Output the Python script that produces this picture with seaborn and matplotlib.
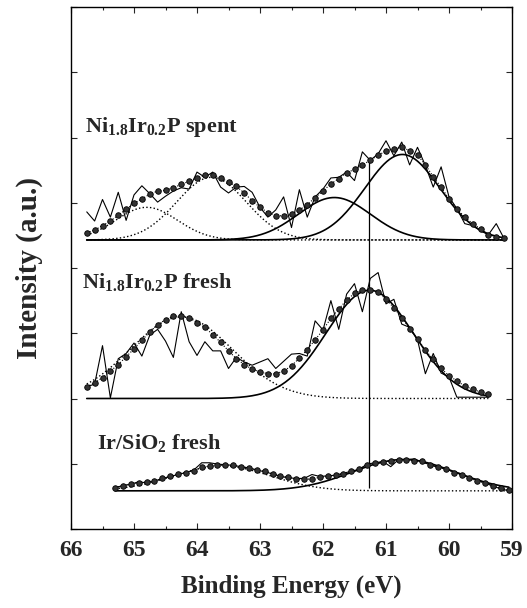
import numpy as np
import matplotlib
matplotlib.use("Agg")
import matplotlib.pyplot as plt
import seaborn as sns

# ---- data ----
# energy grids (eV)
spent_start, fresh_start, ir_start = 65.75, 65.75, 65.30
step = 0.125

# spectra, intensity above each spectrum's own baseline (a.u.)
spent_raw = [0.43, 0.29, 0.62, 0.35, 0.73, 0.30, 0.69, 0.83, 0.71, 0.58,
             0.67, 0.75, 0.80, 0.78, 1.04, 0.96, 1.04, 0.81, 0.72, 0.81,
             0.82, 0.73, 0.50, 0.35, 0.46, 0.66, 0.19, 0.77, 0.35, 0.66,
             0.78, 0.95, 0.96, 1.04, 0.91, 1.35, 1.22, 1.32, 1.52, 1.29,
             1.50, 1.15, 1.42, 1.14, 0.81, 1.12, 0.66, 0.48, 0.25, 0.22,
             0.14, 0.08, 0.25, 0.02]
spent_fit = [0.11, 0.15, 0.22, 0.29, 0.38, 0.47, 0.56, 0.63, 0.70, 0.75,
             0.76, 0.80, 0.85, 0.90, 0.95, 0.99, 1.00, 0.95, 0.89, 0.82,
             0.72, 0.60, 0.50, 0.42, 0.37, 0.37, 0.39, 0.46, 0.54, 0.65,
             0.75, 0.86, 0.94, 1.03, 1.08, 1.15, 1.22, 1.30, 1.36, 1.40,
             1.42, 1.37, 1.30, 1.15, 0.97, 0.81, 0.63, 0.48, 0.35, 0.25,
             0.17, 0.08, 0.05, 0.03]

fresh_raw = [0.18, 0.22, 0.81, 0.01, 0.61, 0.69, 0.85, 0.65, 0.97, 1.06,
             0.88, 0.63, 1.33, 0.87, 0.66, 0.87, 0.73, 0.73, 0.46, 0.63,
             0.56, 0.51, 0.56, 0.61, 0.46, 0.57, 0.68, 0.69, 0.65, 1.19,
             1.05, 1.50, 1.06, 1.60, 1.76, 1.33, 1.84, 1.93, 1.45, 1.52,
             1.14, 1.09, 0.90, 0.38, 0.69, 0.39, 0.33, 0.02, 0.02, 0.02,
             0.02, 0.02]
fresh_fit = [0.18, 0.24, 0.32, 0.42, 0.52, 0.64, 0.76, 0.89, 1.02, 1.13,
             1.21, 1.26, 1.27, 1.24, 1.16, 1.09, 0.98, 0.86, 0.73, 0.61,
             0.52, 0.45, 0.41, 0.38, 0.38, 0.42, 0.50, 0.62, 0.75, 0.90,
             1.05, 1.23, 1.37, 1.51, 1.61, 1.66, 1.67, 1.63, 1.52, 1.39,
             1.24, 1.07, 0.91, 0.74, 0.60, 0.46, 0.35, 0.27, 0.19, 0.14,
             0.10, 0.07]

ir_raw = [0.05, 0.08, 0.10, 0.14, 0.12, 0.15, 0.19, 0.22, 0.25, 0.28,
          0.32, 0.43, 0.43, 0.41, 0.40, 0.39, 0.37, 0.35, 0.32, 0.29,
          0.26, 0.22, 0.20, 0.19, 0.19, 0.25, 0.22, 0.23, 0.24, 0.27,
          0.30, 0.33, 0.41, 0.43, 0.45, 0.37, 0.48, 0.48, 0.49, 0.44,
          0.40, 0.36, 0.34, 0.29, 0.26, 0.20, 0.17, 0.12, 0.07, 0.03,
          0.00]
ir_fit = [0.05, 0.08, 0.11, 0.12, 0.14, 0.15, 0.19, 0.22, 0.26, 0.28,
          0.31, 0.36, 0.38, 0.39, 0.39, 0.39, 0.37, 0.35, 0.32, 0.30,
          0.26, 0.23, 0.21, 0.18, 0.18, 0.18, 0.21, 0.22, 0.24, 0.26,
          0.30, 0.33, 0.40, 0.42, 0.44, 0.46, 0.48, 0.48, 0.46, 0.45,
          0.40, 0.36, 0.33, 0.28, 0.24, 0.19, 0.15, 0.12, 0.08, 0.04,
          0.01]

# fitted peaks: (centre eV, height, FWHM eV, line style)
spent_peaks = [(64.80, 0.50, 1.15, ":"), (63.77, 0.96, 1.30, ":"),
               (61.82, 0.65, 1.35, "-"), (60.74, 1.31, 1.40, "-")]
fresh_peaks = [(64.25, 1.25, 1.90, ":"), (61.26, 1.66, 1.62, "-")]
ir_peaks = [(63.60, 0.38, 1.80, ":"), (60.72, 0.48, 1.90, "-")]

# vertical offsets of the stacked spectra
spent_offset, fresh_offset, ir_offset = 4.43, 2.00, 0.585

labels = ["Ni$_{1.8}$Ir$_{0.2}$P spent", "Ni$_{1.8}$Ir$_{0.2}$P fresh",
          "Ir/SiO$_{2}$ fresh"]
label_pos = [(65.78, 6.09), (65.83, 3.69), (65.59, 1.22)]

ref_energy, ref_top, ref_bottom = 61.27, 5.68, 0.63


def gauss(x, centre, height, fwhm):
    sigma = fwhm / 2.3548
    return height * np.exp(-(x - centre) ** 2 / (2 * sigma ** 2))


sns.set_style("ticks")
plt.rcParams["font.family"] = ["Liberation Serif", "DejaVu Serif"]
plt.rcParams["font.weight"] = "bold"
plt.rcParams["mathtext.fontset"] = "custom"
plt.rcParams["mathtext.rm"] = "Liberation Serif:bold"
plt.rcParams["mathtext.it"] = "Liberation Serif:bold"
plt.rcParams["mathtext.bf"] = "Liberation Serif:bold"

fig = plt.figure(figsize=(5.27, 6.08), dpi=100)
ax = fig.add_axes([71 / 527, 1 - 529 / 608, 441 / 527, 522 / 608])

spectra = [(spent_start, spent_raw, spent_fit, spent_peaks, spent_offset),
           (fresh_start, fresh_raw, fresh_fit, fresh_peaks, fresh_offset),
           (ir_start, ir_raw, ir_fit, ir_peaks, ir_offset)]

for start, raw, fit, peaks, off in spectra:
    e = start - step * np.arange(len(raw))
    e_fine = np.linspace(e[0], e[-1], 300)
    for c, h, w, ls in peaks:
        sns.lineplot(x=e_fine, y=gauss(e_fine, c, h, w) + off, ax=ax,
                     color="black", lw=1.2 if ls == "-" else 1.0,
                     linestyle=ls, sort=False)
    sns.lineplot(x=e, y=np.array(raw) + off, ax=ax, color="black",
                 lw=0.8, sort=False)
    sns.lineplot(x=e, y=np.array(fit) + off, ax=ax, color="black",
                 lw=0.8, linestyle=":", sort=False)
    sns.scatterplot(x=e, y=np.array(fit) + off, ax=ax, s=16,
                    color="#333333", edgecolor="black", linewidth=0.6,
                    zorder=5)

ax.vlines(ref_energy, ref_bottom, ref_top, color="black", lw=0.9)

for txt, (x, y) in zip(labels, label_pos):
    ax.text(x, y, txt, fontsize=16, fontweight="bold", ha="left",
            va="baseline")

ax.set_xlim(66, 59)
ax.set_ylim(0, 8)
ax.set_xticks(np.arange(59, 67, 1))
ax.set_xticks(np.arange(59, 66.01, 0.5), minor=True)
ax.set_yticks(np.arange(0, 9, 1))
ax.set_yticklabels([])
ax.tick_params(direction="in", top=True, right=True, which="both",
               labelsize=17, pad=8, width=0.8)
ax.tick_params(which="major", length=4)
ax.tick_params(which="minor", length=2.5)
for lab in ax.get_xticklabels():
    lab.set_fontweight("bold")
for sp in ax.spines.values():
    sp.set_linewidth(1.0)
    sp.set_color("black")

ax.set_xlabel("Binding Energy (eV)", fontsize=18, fontweight="bold",
              labelpad=10)
ax.set_ylabel("Intensity (a.u.)", fontsize=21, fontweight="bold",
              labelpad=12)

fig.savefig("out.png", dpi=100)
